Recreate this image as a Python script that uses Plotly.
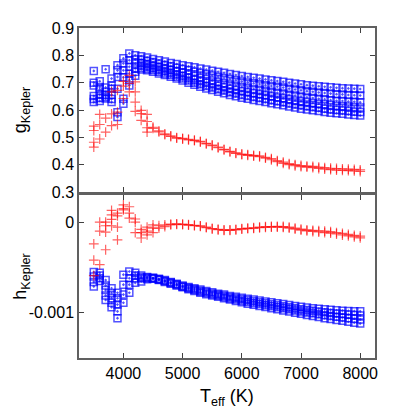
import plotly.graph_objects as go

# effective temperatures (K), one column of points per value
teff = [3500, 3600, 3700, 3800, 3900, 4000, 4100, 4200, 4300, 4400,
        4500, 4600, 4700, 4800, 4900, 5000, 5100, 5200, 5300, 5400,
        5500, 5600, 5700, 5800, 5900, 6000, 6100, 6200, 6300, 6400,
        6500, 6600, 6700, 6800, 6900, 7000, 7100, 7200, 7300, 7400,
        7500, 7600, 7700, 7800, 7900, 8000]

# g_Kepler, blue squares (one list per model sequence)
g_blue_1 = [0.743, 0.705, 0.749, 0.715, 0.764, 0.789, 0.807, 0.800,
            0.797, 0.792, 0.787, 0.782, 0.777, 0.772, 0.768, 0.764, 0.760, 0.756,
            0.752, 0.748, 0.744, 0.740, 0.736, 0.732, 0.728, 0.724, 0.721, 0.718,
            0.715, 0.712, 0.709, 0.706, 0.703, 0.700, 0.697, 0.694, 0.691, 0.689,
            0.687, 0.685, 0.683, 0.681, 0.680, 0.679, 0.678, 0.677]
g_blue_2 = [0.700, 0.684, 0.682, 0.690, 0.745, 0.770, 0.782, 0.785,
            0.785, 0.780, 0.775, 0.770, 0.765, 0.760, 0.755, 0.750, 0.745, 0.740,
            0.735, 0.731, 0.726, 0.722, 0.717, 0.713, 0.709, 0.704, 0.701, 0.698,
            0.695, 0.691, 0.688, 0.685, 0.682, 0.678, 0.675, 0.672, 0.669, 0.667,
            0.664, 0.662, 0.660, 0.658, 0.657, 0.655, 0.654, 0.653]
g_blue_3 = [0.690, 0.676, 0.666, 0.678, 0.721, 0.745, 0.758, 0.770,
            0.772, 0.768, 0.763, 0.758, 0.752, 0.747, 0.741, 0.736, 0.730, 0.724,
            0.718, 0.713, 0.708, 0.703, 0.698, 0.693, 0.689, 0.684, 0.681, 0.677,
            0.674, 0.670, 0.667, 0.663, 0.660, 0.656, 0.653, 0.649, 0.646, 0.644,
            0.641, 0.639, 0.636, 0.634, 0.633, 0.631, 0.630, 0.628]
g_blue_4 = [0.651, 0.656, 0.654, 0.656, 0.678, 0.720, 0.733, 0.752,
            0.763, 0.759, 0.754, 0.748, 0.743, 0.737, 0.731, 0.725, 0.718, 0.711,
            0.705, 0.700, 0.694, 0.689, 0.683, 0.678, 0.673, 0.669, 0.665, 0.661,
            0.658, 0.654, 0.650, 0.646, 0.643, 0.639, 0.635, 0.632, 0.629, 0.626,
            0.623, 0.621, 0.618, 0.616, 0.614, 0.613, 0.611, 0.609]
g_blue_5 = [0.640, 0.644, 0.647, 0.640, 0.592, 0.641, 0.709, 0.740,
            0.754, 0.751, 0.746, 0.740, 0.734, 0.729, 0.722, 0.715, 0.708, 0.700,
            0.694, 0.688, 0.682, 0.676, 0.671, 0.665, 0.660, 0.655, 0.651, 0.648,
            0.644, 0.640, 0.636, 0.632, 0.628, 0.624, 0.620, 0.617, 0.614, 0.611,
            0.608, 0.605, 0.602, 0.600, 0.598, 0.596, 0.594, 0.593]
g_blue_6 = [0.629, 0.633, 0.642, 0.629, 0.574, 0.623, 0.690, 0.725,
            0.748, 0.745, 0.740, 0.734, 0.728, 0.722, 0.715, 0.708, 0.700, 0.692,
            0.685, 0.679, 0.673, 0.667, 0.661, 0.655, 0.650, 0.645, 0.641, 0.637,
            0.633, 0.629, 0.625, 0.621, 0.617, 0.613, 0.609, 0.605, 0.602, 0.599,
            0.596, 0.593, 0.590, 0.588, 0.586, 0.584, 0.582, 0.580]

# g_Kepler, red crosses
g_red_1 = [0.541, 0.584, 0.570, 0.666, 0.672, 0.705, 0.727, 0.703, 0.599, 0.584,
           0.537, 0.524, 0.513, 0.505, 0.499, 0.496, 0.493, 0.490, 0.485, 0.478,
           0.472, 0.464, 0.456, 0.449, 0.443, 0.439, 0.437, 0.434, 0.432, 0.427,
           0.422, 0.415, 0.409, 0.404, 0.400, 0.397, 0.395, 0.394, 0.391, 0.389,
           0.387, 0.386, 0.385, 0.384, 0.383, 0.381]
g_red_2 = [0.525, 0.547, 0.519, 0.586, 0.592, 0.687, 0.697, 0.666, 0.587, 0.558,
           0.533, 0.520, 0.510, 0.503, 0.497, 0.494, 0.491, 0.488, 0.483, 0.476,
           0.470, 0.462, 0.454, 0.447, 0.441, 0.437, 0.434, 0.431, 0.429, 0.424,
           0.418, 0.411, 0.405, 0.400, 0.396, 0.393, 0.391, 0.389, 0.386, 0.384,
           0.382, 0.380, 0.379, 0.378, 0.377, 0.375]
g_red_3 = [0.482, 0.494, None, 0.543, 0.547, 0.642, 0.666, 0.629, 0.562, 0.535] + [None] * 36
g_red_4 = [0.464, None, None, None, None, None, None, 0.595, None, 0.519] + [None] * 36

# h_Kepler in units of 1e-4, blue squares
h_blue_1 = [-5.5, -5.6, -6.4, -7.3, -7.8, -5.8, -5.45, -5.6, -5.9, -6.05,
            -6.15, -6.25, -6.40, -6.60, -6.80, -7.00, -7.15, -7.30, -7.45, -7.60,
            -7.75, -7.90, -8.00, -8.15, -8.25, -8.35, -8.45, -8.55, -8.65, -8.75,
            -8.85, -8.95, -9.05, -9.15, -9.25, -9.35, -9.42, -9.50, -9.57, -9.63,
            -9.68, -9.73, -9.77, -9.80, -9.83, -9.85]
h_blue_2 = [-6.0, -5.9, -7.0, -7.85, -8.4, -6.9, -6.2, -5.9, -6.05, -6.1,
            -6.18, -6.30, -6.47, -6.67, -6.87, -7.07, -7.23, -7.40, -7.57, -7.72,
            -7.87, -8.02, -8.13, -8.28, -8.40, -8.52, -8.63, -8.74, -8.85, -8.96,
            -9.07, -9.17, -9.28, -9.39, -9.50, -9.61, -9.69, -9.79, -9.87, -9.95,
            -10.02, -10.09, -10.15, -10.20, -10.25, -10.30]
h_blue_3 = [-6.6, -6.2, -7.5, -8.4, -9.1, -8.0, -6.9, -6.2, -6.2, -6.2,
            -6.22, -6.35, -6.53, -6.73, -6.93, -7.13, -7.32, -7.50, -7.68, -7.83,
            -7.98, -8.13, -8.27, -8.42, -8.55, -8.68, -8.82, -8.93, -9.05, -9.17,
            -9.28, -9.40, -9.52, -9.63, -9.75, -9.87, -9.97, -10.07, -10.18, -10.27,
            -10.36, -10.45, -10.53, -10.60, -10.67, -10.75]
h_blue_4 = [-7.1, -6.5, -8.1, -8.9, -9.85, -8.9, -7.8, -6.7, -6.55, -6.3,
            -6.25, -6.40, -6.60, -6.80, -7.00, -7.20, -7.40, -7.60, -7.80, -7.95,
            -8.10, -8.25, -8.40, -8.55, -8.70, -8.85, -9.00, -9.12, -9.25, -9.38,
            -9.50, -9.62, -9.75, -9.87, -10.00, -10.12, -10.24, -10.36, -10.48, -10.60,
            -10.70, -10.80, -10.90, -11.00, -11.10, -11.20]
h_blue_5 = [None, None, -8.6, -9.4, -10.6] + [None] * 41

# h_Kepler in units of 1e-4, red crosses
h_red_1 = [-2.4, 0.0, 0.0, 1.3, 1.0, 1.9, 1.7, 0.35, -0.8, -0.55,
           -0.3, -0.4, -0.3, -0.22, -0.19, -0.22, -0.28, -0.34, -0.41, -0.55,
           -0.70, -0.80, -0.85, -0.85, -0.80, -0.72, -0.66, -0.62, -0.56, -0.50,
           -0.48, -0.47, -0.48, -0.55, -0.65, -0.77, -0.85, -0.90, -0.95, -1.00,
           -1.05, -1.15, -1.25, -1.35, -1.45, -1.55]
h_red_2 = [-4.2, -1.0, -0.4, 0.8, 0.7, 1.5, 1.0, 0.0, -1.15, -1.0,
           -0.65, -0.65, -0.5, -0.3, -0.25, -0.27, -0.32, -0.38, -0.45, -0.60,
           -0.74, -0.84, -0.90, -0.90, -0.86, -0.78, -0.72, -0.68, -0.62, -0.57,
           -0.56, -0.56, -0.58, -0.65, -0.76, -0.88, -0.97, -1.03, -1.09, -1.15,
           -1.21, -1.31, -1.42, -1.52, -1.63, -1.73]
h_red_3 = [-5.9, -4.7, -1.1, 0.3, -0.55, 1.35, 0.45, -1.15, -1.75, -1.4, -1.15] + [None] * 35
h_red_4 = [None, None, -3.05, -0.4, -1.95] + [None] * 41

g_blue = [g_blue_1, g_blue_2, g_blue_3, g_blue_4, g_blue_5, g_blue_6]
g_red = [g_red_1, g_red_2, g_red_3, g_red_4]
h_blue = [h_blue_1, h_blue_2, h_blue_3, h_blue_4, h_blue_5]
h_red = [h_red_1, h_red_2, h_red_3, h_red_4]

BLUE = 'rgba(0,0,255,0.68)'
RED = 'rgba(255,0,0,0.62)'
blue_marker = dict(symbol='square-open-dot', size=7, color=BLUE,
                   line=dict(width=1.5, color=BLUE))
red_marker = dict(symbol='cross-thin-open', size=7, color=RED,
                  line=dict(width=1.2, color=RED))


def scale(vals):
    # stored in units of 1e-4
    return [None if v is None else v * 1e-4 for v in vals]


fig = go.Figure()
for ys in g_blue:
    fig.add_trace(go.Scatter(x=teff, y=ys, mode='markers', marker=blue_marker,
                             xaxis='x', yaxis='y'))
for ys in g_red:
    fig.add_trace(go.Scatter(x=teff, y=ys, mode='markers', marker=red_marker,
                             xaxis='x', yaxis='y'))
for ys in h_blue:
    fig.add_trace(go.Scatter(x=teff, y=scale(ys), mode='markers', marker=blue_marker,
                             xaxis='x2', yaxis='y2'))
for ys in h_red:
    fig.add_trace(go.Scatter(x=teff, y=scale(ys), mode='markers', marker=red_marker,
                             xaxis='x2', yaxis='y2'))

frame = dict(showline=True, linecolor='#606060', linewidth=1.5, mirror='allticks',
             ticks='inside', ticklen=5, tickcolor='#404040', tickwidth=1,
             showgrid=False, zeroline=False)

xticks = [4000, 5000, 6000, 7000, 8000]

# the page body adds an 8px margin, so the figure is 407px and shifted margins
fig.update_layout(
    width=407, height=407,
    margin=dict(l=71, r=40, t=20, b=57, autoexpand=False),
    paper_bgcolor='white', plot_bgcolor='white',
    showlegend=False,
    font=dict(family='Liberation Sans, Arial, sans-serif', size=16, color='black'),
    xaxis=dict(frame, range=[3250, 8250], tickvals=xticks, showticklabels=False,
               anchor='y'),
    xaxis2=dict(frame, range=[3250, 8250], tickvals=xticks,
                ticktext=[str(t) for t in xticks], anchor='y2', matches='x'),
    yaxis=dict(frame, domain=[0.503, 1], range=[0.3, 0.9],
               tickvals=[0.3, 0.4, 0.5, 0.6, 0.7, 0.8, 0.9],
               ticktext=['0.3', '0.4', '0.5', '0.6', '0.7', '0.8', '0.9'],
               anchor='x'),
    yaxis2=dict(frame, domain=[0, 0.494], range=[-0.0015, 0.0003],
                tickvals=[0, -0.001], ticktext=['0', '-0.001'], anchor='x2'),
)

fig.add_annotation(text='g<sub>Kepler</sub>', textangle=-90, xref='paper', yref='paper',
                   x=-0.195, y=0.7515, xanchor='center', yanchor='middle',
                   showarrow=False, font=dict(size=18))
fig.add_annotation(text='h<sub>Kepler</sub>', textangle=-90, xref='paper', yref='paper',
                   x=-0.195, y=0.247, xanchor='center', yanchor='middle',
                   showarrow=False, font=dict(size=18))
fig.add_annotation(text='T<sub>eff</sub> (K)', xref='paper', yref='paper',
                   x=0.5, y=-0.121, xanchor='center', yanchor='middle',
                   showarrow=False, font=dict(size=18))

fig.write_html("out.html")
